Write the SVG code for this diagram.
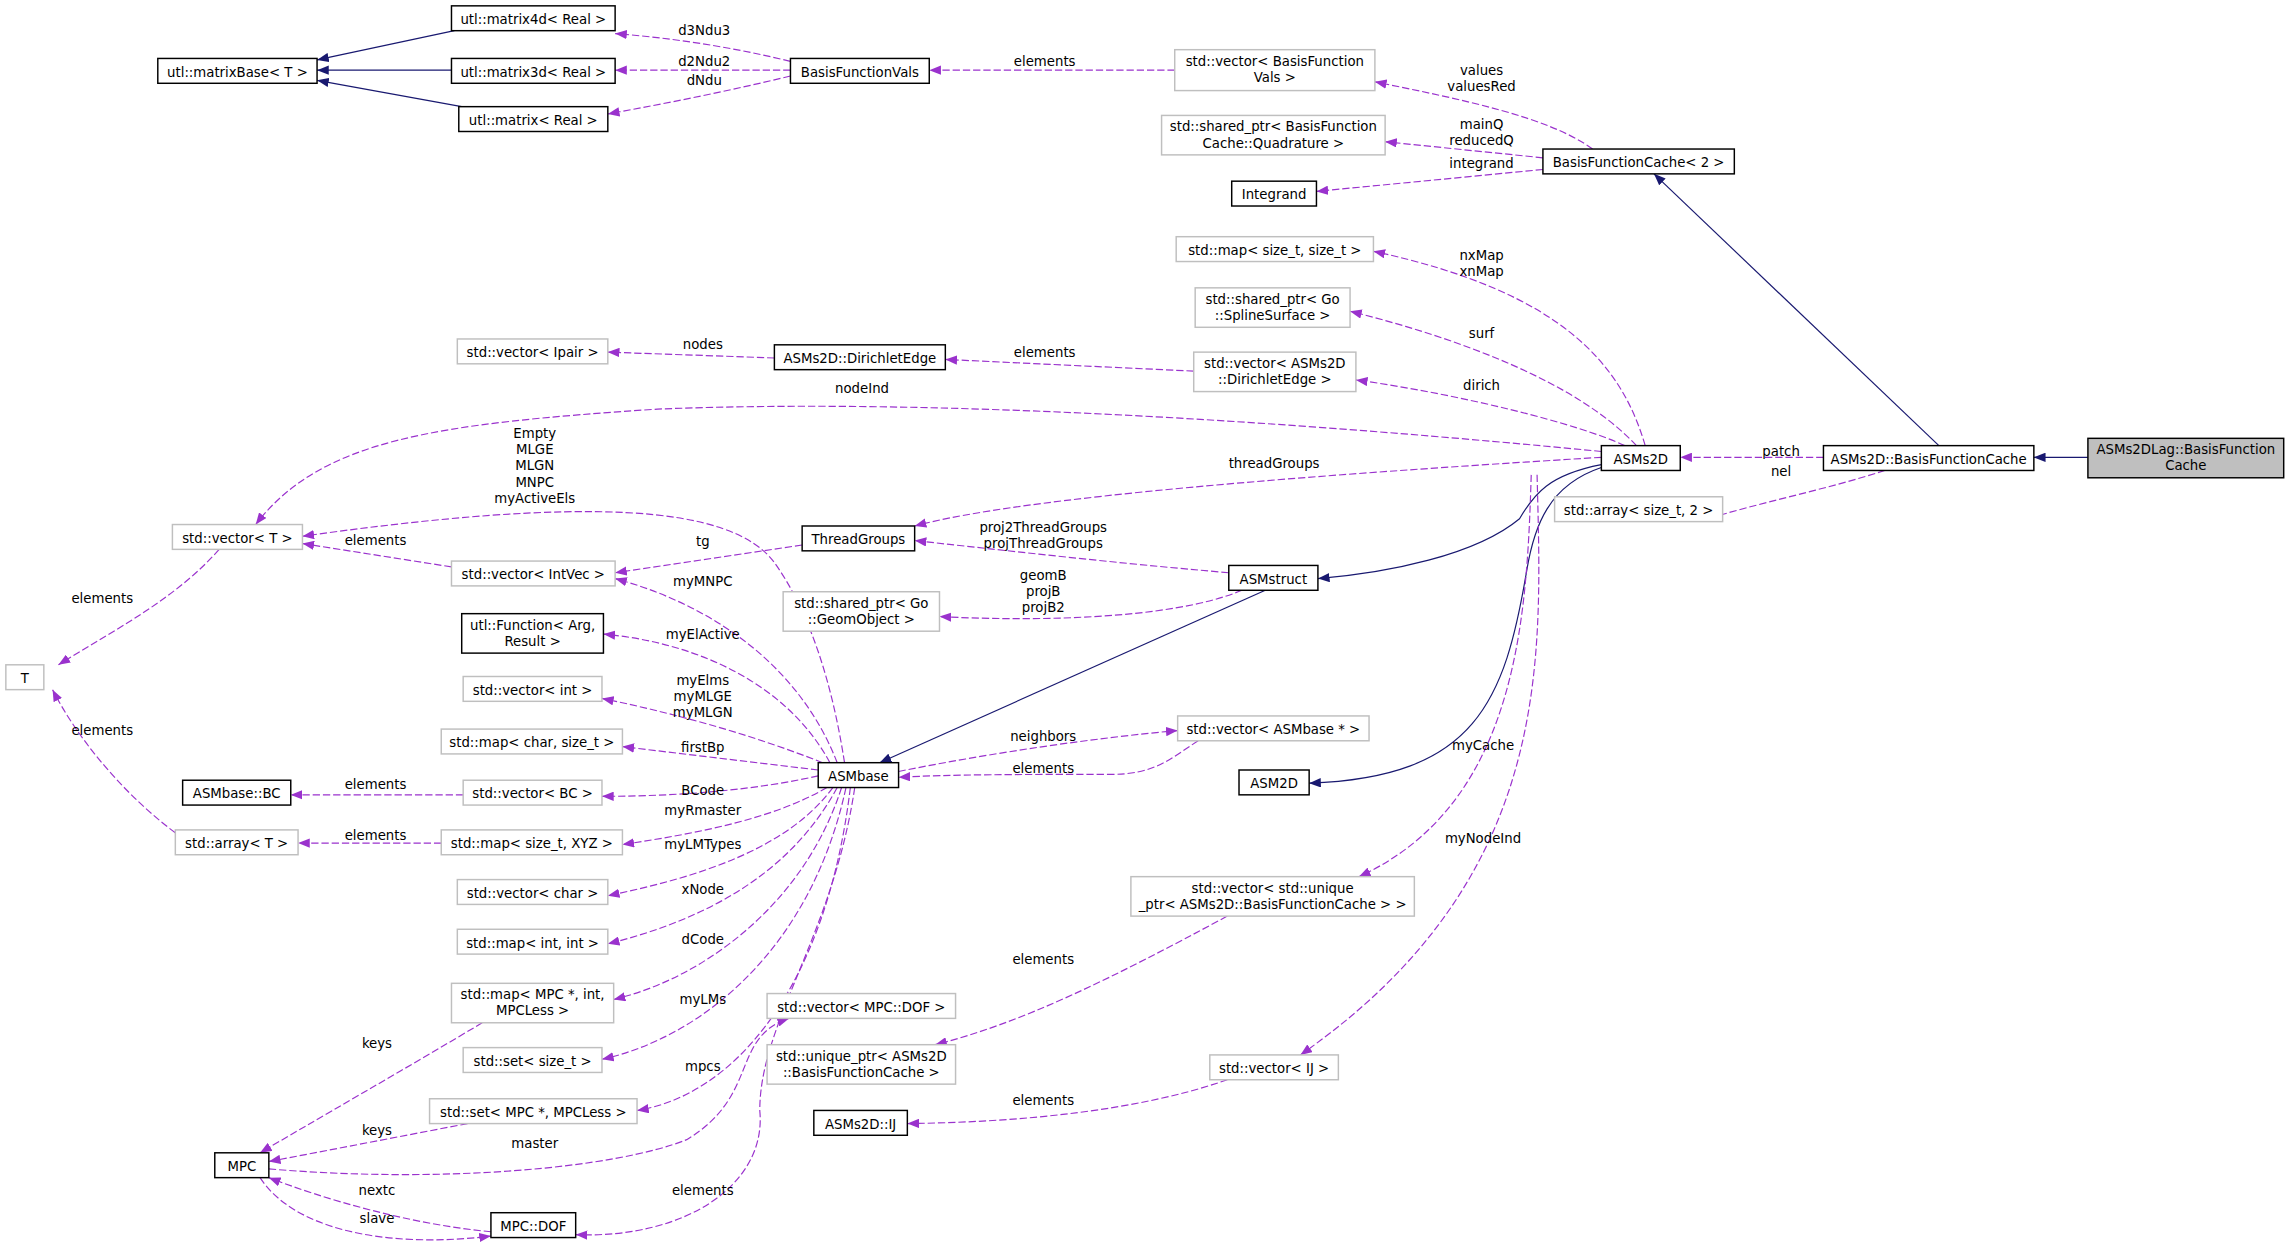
<svg xmlns="http://www.w3.org/2000/svg" width="2291" height="1246" viewBox="0 0 2291 1246">
<style>
text{font-family:"DejaVu Sans","Liberation Sans",sans-serif;font-size:9.1px;fill:#000;text-anchor:middle}
.n rect{fill:#fff;stroke:#000;stroke-width:1}
.g rect{fill:#fff;stroke:#bfbfbf;stroke-width:1}
.h rect{fill:#bfbfbf;stroke:#000;stroke-width:1}
.i{fill:none;stroke:#191970;stroke-width:0.8}
.u{fill:none;stroke:#9a32cd;stroke-width:0.8;stroke-dasharray:5,2}
</style>
<defs>
<marker id="ab" viewBox="0 0 10 8" refX="10" refY="4" markerWidth="10" markerHeight="8" orient="auto" markerUnits="strokeWidth"><path d="M0,0 L10,4 L0,8 Z" fill="#191970"/></marker>
<marker id="ap" viewBox="0 0 10 8" refX="10" refY="4" markerWidth="10" markerHeight="8" orient="auto" markerUnits="strokeWidth"><path d="M0,0 L10,4 L0,8 Z" fill="#9a32cd"/></marker>
</defs>
<rect width="2291" height="1246" fill="#fff"/>
<g transform="scale(1.4611)">
<g id="connectors">
<path class="i" marker-end="url(#ab)" d="M311,21 L217,41"/>
<path class="i" marker-end="url(#ab)" d="M309,48 L217,48"/>
<path class="i" marker-end="url(#ab)" d="M316,73 L217,55"/>
<path class="i" marker-end="url(#ab)" d="M1327,305 L1132,119"/>
<path class="i" marker-end="url(#ab)" d="M1429,313 L1392,313"/>
<path class="i" marker-end="url(#ab)" d="M1096,318 C1060,325 1050,338 1040,355 C1010,380 950,392 902,396"/>
<path class="i" marker-end="url(#ab)" d="M1096,320 C1060,332 1050,360 1045,390 C1030,480 1010,532 896,536"/>
<path class="i" marker-end="url(#ab)" d="M866,404 L602,522"/>

<path class="u" marker-end="url(#ap)" d="M541,42 C500,32 460,26 421,23"/>
<path class="u" marker-end="url(#ap)" d="M541,48 L421,48"/>
<path class="u" marker-end="url(#ap)" d="M541,52 C500,62 460,70 416,78"/>
<path class="u" marker-end="url(#ap)" d="M804,48 L636,48"/>
<path class="u" marker-end="url(#ap)" d="M1090,102 C1060,80 1000,68 941,56"/>
<path class="u" marker-end="url(#ap)" d="M1056,108 L948,97"/>
<path class="u" marker-end="url(#ap)" d="M1056,116 L901,131"/>
<path class="u" marker-end="url(#ap)" d="M1126,305 C1110,250 1070,200 940,172"/>
<path class="u" marker-end="url(#ap)" d="M1120,305 C1080,262 1000,232 924,213"/>
<path class="u" marker-end="url(#ap)" d="M1112,305 C1080,290 1000,270 928,260"/>
<path class="u" marker-end="url(#ap)" d="M817,254 L647,246"/>
<path class="u" marker-end="url(#ap)" d="M530,245 L416,241"/>
<path class="u" marker-end="url(#ap)" d="M1096,309 C900,290 650,272 450,280 C300,290 220,300 175,359"/>
<path class="u" marker-end="url(#ap)" d="M1096,313 C900,325 700,340 626,360"/>
<path class="u" marker-end="url(#ap)" d="M1248,313 L1150,313"/>
<path class="u" marker-end="url(#ap)" d="M1290,322 C1250,335 1200,345 1166,356"/>
<path class="u" marker-end="url(#ap)" d="M841,392 C760,385 700,378 626,370"/>
<path class="u" marker-end="url(#ap)" d="M850,404 C800,425 700,425 643,422"/>
<path class="u" marker-end="url(#ap)" d="M549,373 L421,392"/>
<path class="u" marker-end="url(#ap)" d="M309,388 L207,372"/>
<path class="u" marker-end="url(#ap)" d="M150,376 C120,410 80,430 40,455"/>
<path class="u" marker-end="url(#ap)" d="M120,570 C80,540 50,500 36,472"/>
<path class="u" marker-end="url(#ap)" d="M578,522 C570,470 555,420 530,385 C500,345 400,340 207,367"/>
<path class="u" marker-end="url(#ap)" d="M573,522 C545,450 480,412 421,396"/>
<path class="u" marker-end="url(#ap)" d="M568,522 C540,470 480,440 413,434"/>
<path class="u" marker-end="url(#ap)" d="M563,522 C520,505 470,490 412,478"/>
<path class="u" marker-end="url(#ap)" d="M560,527 L426,511"/>
<path class="u" marker-end="url(#ap)" d="M560,531 C520,540 470,545 412,545"/>
<path class="u" marker-end="url(#ap)" d="M317,544 L199,544"/>
<path class="u" marker-end="url(#ap)" d="M566,539 C530,560 480,570 426,578"/>
<path class="u" marker-end="url(#ap)" d="M302,577 L204,577"/>
<path class="u" marker-end="url(#ap)" d="M570,539 C540,580 480,600 416,613"/>
<path class="u" marker-end="url(#ap)" d="M573,539 C540,600 480,630 416,646"/>
<path class="u" marker-end="url(#ap)" d="M576,539 C550,620 480,670 420,684"/>
<path class="u" marker-end="url(#ap)" d="M579,539 C555,650 480,710 412,725"/>
<path class="u" marker-end="url(#ap)" d="M582,539 C565,680 500,750 436,760"/>
<path class="u" marker-end="url(#ap)" d="M585,539 C570,640 520,700 520,760 C525,810 470,848 394,845"/>
<path class="u" marker-end="url(#ap)" d="M184,800 C300,810 420,800 470,780 C520,750 500,710 540,697"/>
<path class="u" marker-end="url(#ap)" d="M330,700 C280,730 210,770 178,789"/>
<path class="u" marker-end="url(#ap)" d="M320,769 L184,795"/>
<path class="u" marker-end="url(#ap)" d="M336,843 C280,838 220,820 184,806"/>
<path class="u" marker-end="url(#ap)" d="M178,806 C200,840 260,855 336,846"/>
<path class="u" marker-end="url(#ap)" d="M615,528 C680,515 750,505 806,500"/>
<path class="u" marker-end="url(#ap)" d="M820,507 C800,520 790,530 760,530 C700,530 650,530 615,532"/>
<path class="u" marker-end="url(#ap)" d="M1048,325 C1045,420 1040,550 930,600"/>
<path class="u" marker-end="url(#ap)" d="M1052,325 C1055,450 1065,600 890,722"/>
<path class="u" marker-end="url(#ap)" d="M840,627 C760,670 700,700 640,715"/>
<path class="u" marker-end="url(#ap)" d="M840,739 C780,760 700,768 621,769"/>
</g>
<g id="labels">
<text x="482" y="24">d3Ndu3</text>
<text x="482" y="45">d2Ndu2</text>
<text x="482" y="58">dNdu</text>
<text x="715" y="45">elements</text>
<text x="1014" y="51">values</text><text x="1014" y="62">valuesRed</text>
<text x="1014" y="88">mainQ</text><text x="1014" y="99">reducedQ</text>
<text x="1014" y="115">integrand</text>
<text x="1014" y="178">nxMap</text><text x="1014" y="189">xnMap</text>
<text x="1014" y="231">surf</text>
<text x="1014" y="267">dirich</text>
<text x="715" y="244">elements</text>
<text x="481" y="239">nodes</text>
<text x="590" y="269">nodeInd</text>
<text x="872" y="320">threadGroups</text>
<text x="1219" y="312">patch</text>
<text x="1219" y="326">nel</text>
<text x="714" y="364">proj2ThreadGroups</text><text x="714" y="375">projThreadGroups</text>
<text x="714" y="397">geomB</text><text x="714" y="408">projB</text><text x="714" y="419">projB2</text>
<text x="481" y="374">tg</text>
<text x="257" y="373">elements</text>
<text x="70" y="413">elements</text>
<text x="70" y="503">elements</text>
<text x="366" y="300">Empty</text><text x="366" y="311">MLGE</text><text x="366" y="322">MLGN</text><text x="366" y="333">MNPC</text><text x="366" y="344">myActiveEls</text>
<text x="481" y="401">myMNPC</text>
<text x="481" y="437">myElActive</text>
<text x="481" y="469">myElms</text><text x="481" y="480">myMLGE</text><text x="481" y="491">myMLGN</text>
<text x="481" y="515">firstBp</text>
<text x="481" y="544">BCode</text>
<text x="257" y="540">elements</text>
<text x="481" y="558">myRmaster</text>
<text x="257" y="575">elements</text>
<text x="481" y="581">myLMTypes</text>
<text x="481" y="612">xNode</text>
<text x="481" y="646">dCode</text>
<text x="481" y="687">myLMs</text>
<text x="481" y="733">mpcs</text>
<text x="366" y="786">master</text>
<text x="481" y="818">elements</text>
<text x="258" y="717">keys</text>
<text x="258" y="777">keys</text>
<text x="258" y="818">nextc</text>
<text x="258" y="837">slave</text>
<text x="714" y="507">neighbors</text>
<text x="714" y="529">elements</text>
<text x="1015" y="513">myCache</text>
<text x="1015" y="577">myNodeInd</text>
<text x="714" y="660">elements</text>
<text x="714" y="756">elements</text>
</g>
<g id="n1" class="n"><rect x="309" y="4" width="112" height="17"/><text x="365" y="16.5">utl::matrix4d&lt; Real &gt;</text></g>
<g id="n2" class="n"><rect x="108" y="40" width="109" height="17"/><text x="162.5" y="52.5">utl::matrixBase&lt; T &gt;</text></g>
<g id="n3" class="n"><rect x="309" y="40" width="112" height="17"/><text x="365" y="52.5">utl::matrix3d&lt; Real &gt;</text></g>
<g id="n4" class="n"><rect x="314" y="73" width="102" height="17"/><text x="365" y="85.5">utl::matrix&lt; Real &gt;</text></g>
<g id="n5" class="n"><rect x="541" y="40" width="95" height="17"/><text x="588.5" y="52.5">BasisFunctionVals</text></g>
<g id="n6" class="g"><rect x="804" y="34" width="137" height="28"/><text x="872.5" y="45">std::vector&lt; BasisFunction</text><text x="872.5" y="56">Vals &gt;</text></g>
<g id="n7" class="g"><rect x="795" y="79" width="153" height="27"/><text x="871.5" y="90">std::shared_ptr&lt; BasisFunction</text><text x="871.5" y="101">Cache::Quadrature &gt;</text></g>
<g id="n8" class="n"><rect x="843" y="124" width="58" height="17"/><text x="872" y="136.5">Integrand</text></g>
<g id="n9" class="n"><rect x="1056" y="102" width="131" height="17"/><text x="1121.5" y="114.5">BasisFunctionCache&lt; 2 &gt;</text></g>
<g id="n10" class="g"><rect x="805" y="162" width="135" height="17"/><text x="872.5" y="174.5">std::map&lt; size_t, size_t &gt;</text></g>
<g id="n11" class="g"><rect x="818" y="197" width="106" height="27"/><text x="871" y="208">std::shared_ptr&lt; Go</text><text x="871" y="219">::SplineSurface &gt;</text></g>
<g id="n12" class="g"><rect x="817" y="241" width="111" height="27"/><text x="872.5" y="252">std::vector&lt; ASMs2D</text><text x="872.5" y="263">::DirichletEdge &gt;</text></g>
<g id="n13" class="g"><rect x="313" y="232" width="103" height="17"/><text x="364.5" y="244.5">std::vector&lt; Ipair &gt;</text></g>
<g id="n14" class="n"><rect x="530" y="236" width="117" height="17"/><text x="588.5" y="248.5">ASMs2D::DirichletEdge</text></g>
<g id="n15" class="n"><rect x="1096" y="305" width="54" height="17"/><text x="1123" y="317.5">ASMs2D</text></g>
<g id="n16" class="n"><rect x="1248" y="305" width="144" height="17"/><text x="1320" y="317.5">ASMs2D::BasisFunctionCache</text></g>
<g id="n17" class="h"><rect x="1429" y="300" width="134" height="27"/><text x="1496" y="311">ASMs2DLag::BasisFunction</text><text x="1496" y="322">Cache</text></g>
<g id="n18" class="g"><rect x="1064" y="340" width="115" height="17"/><text x="1121.5" y="352.5">std::array&lt; size_t, 2 &gt;</text></g>
<g id="n19" class="g"><rect x="118" y="359" width="89" height="17"/><text x="162.5" y="371.5">std::vector&lt; T &gt;</text></g>
<g id="n20" class="g"><rect x="309" y="384" width="112" height="17"/><text x="365" y="396.5">std::vector&lt; IntVec &gt;</text></g>
<g id="n21" class="n"><rect x="549" y="360" width="77" height="17"/><text x="587.5" y="372.5">ThreadGroups</text></g>
<g id="n22" class="n"><rect x="841" y="387" width="61" height="17"/><text x="871.5" y="399.5">ASMstruct</text></g>
<g id="n23" class="g"><rect x="536" y="405" width="107" height="27"/><text x="589.5" y="416">std::shared_ptr&lt; Go</text><text x="589.5" y="427">::GeomObject &gt;</text></g>
<g id="n24" class="g"><rect x="4" y="455" width="26" height="17"/><text x="17" y="467.5">T</text></g>
<g id="n25" class="n"><rect x="316" y="420" width="97" height="27"/><text x="364.5" y="431">utl::Function&lt; Arg,</text><text x="364.5" y="442">Result &gt;</text></g>
<g id="n26" class="g"><rect x="317" y="463" width="95" height="17"/><text x="364.5" y="475.5">std::vector&lt; int &gt;</text></g>
<g id="n27" class="g"><rect x="302" y="499" width="124" height="17"/><text x="364" y="511.5">std::map&lt; char, size_t &gt;</text></g>
<g id="n28" class="n"><rect x="560" y="522" width="55" height="17"/><text x="587.5" y="534.5">ASMbase</text></g>
<g id="n29" class="g"><rect x="806" y="490" width="131" height="17"/><text x="871.5" y="502.5">std::vector&lt; ASMbase * &gt;</text></g>
<g id="n30" class="n"><rect x="125" y="534" width="74" height="17"/><text x="162" y="546.5">ASMbase::BC</text></g>
<g id="n31" class="g"><rect x="317" y="534" width="95" height="17"/><text x="364.5" y="546.5">std::vector&lt; BC &gt;</text></g>
<g id="n32" class="n"><rect x="848" y="527" width="48" height="17"/><text x="872" y="539.5">ASM2D</text></g>
<g id="n33" class="g"><rect x="120" y="568" width="84" height="17"/><text x="162" y="580.5">std::array&lt; T &gt;</text></g>
<g id="n34" class="g"><rect x="302" y="568" width="124" height="17"/><text x="364" y="580.5">std::map&lt; size_t, XYZ &gt;</text></g>
<g id="n35" class="g"><rect x="313" y="602" width="103" height="17"/><text x="364.5" y="614.5">std::vector&lt; char &gt;</text></g>
<g id="n36" class="g"><rect x="313" y="636" width="103" height="17"/><text x="364.5" y="648.5">std::map&lt; int, int &gt;</text></g>
<g id="n37" class="g"><rect x="774" y="600" width="194" height="27"/><text x="871" y="611">std::vector&lt; std::unique</text><text x="871" y="622">_ptr&lt; ASMs2D::BasisFunctionCache &gt; &gt;</text></g>
<g id="n38" class="g"><rect x="309" y="673" width="111" height="27"/><text x="364.5" y="684">std::map&lt; MPC *, int,</text><text x="364.5" y="695">MPCLess &gt;</text></g>
<g id="n39" class="g"><rect x="525" y="680" width="129" height="17"/><text x="589.5" y="692.5">std::vector&lt; MPC::DOF &gt;</text></g>
<g id="n40" class="g"><rect x="317" y="717" width="95" height="17"/><text x="364.5" y="729.5">std::set&lt; size_t &gt;</text></g>
<g id="n41" class="g"><rect x="525" y="715" width="129" height="27"/><text x="589.5" y="726">std::unique_ptr&lt; ASMs2D</text><text x="589.5" y="737">::BasisFunctionCache &gt;</text></g>
<g id="n42" class="g"><rect x="828" y="722" width="88" height="17"/><text x="872" y="734.5">std::vector&lt; IJ &gt;</text></g>
<g id="n43" class="g"><rect x="294" y="752" width="142" height="17"/><text x="365" y="764.5">std::set&lt; MPC *, MPCLess &gt;</text></g>
<g id="n44" class="n"><rect x="557" y="760" width="64" height="17"/><text x="589" y="772.5">ASMs2D::IJ</text></g>
<g id="n45" class="n"><rect x="147" y="789" width="37" height="17"/><text x="165.5" y="801.5">MPC</text></g>
<g id="n46" class="n"><rect x="336" y="830" width="58" height="17"/><text x="365" y="842.5">MPC::DOF</text></g>
</g>
</svg>
